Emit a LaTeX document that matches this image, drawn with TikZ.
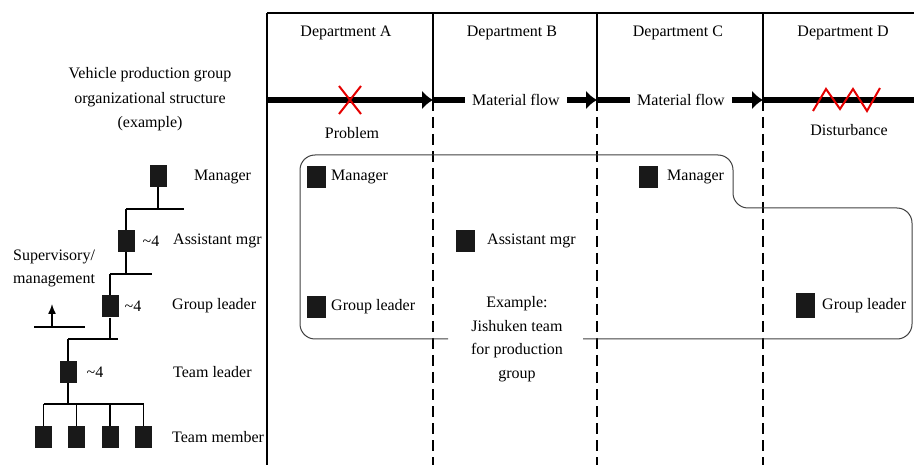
\documentclass[tikz,border=0pt]{standalone}
\usepackage{fontspec}
\setmainfont{Liberation Serif}
\usetikzlibrary{arrows.meta}
\begin{document}
\begin{tikzpicture}[x=1pt,y=-1pt,
  lbl/.style={inner sep=0pt, font=\fontsize{16}{23.5}\selectfont},
  flowtext/.style={lbl, inner xsep=7pt},
  sq/.style={fill=black!90, minimum width=17pt, minimum height=22pt, inner sep=0pt},
  bigsq/.style={sq, minimum width=19pt},
  grid/.style={line width=1.1pt},
  lane/.style={line width=2pt, dash pattern=on 11pt off 6pt},
  flow/.style={line width=6.5pt},
  flowtip/.style={-{Latex[length=11pt,width=19pt]}},
  chart/.style={line width=1.4pt},
  jteam/.style={draw=black!75, line width=1pt, rounded corners=15pt},
  fault/.style={draw=red!90!black, line width=2pt}
]
\useasboundingbox (0,0) rectangle (914,465);

% ---- department table ----
\draw[grid] (267,13) -- (914,13);
\draw[grid] (267,13) -- (267,465);
\foreach \x in {433,597,763}{
  \draw[grid] (\x,13) -- (\x,100);
  \draw[lane] (\x,100) -- (\x,465);
}
\node[lbl] (depA) at (346,33) {Department A};
\node[lbl] (depB) at (512,33) {Department B};
\node[lbl] (depC) at (678,33) {Department C};
\node[lbl] (depD) at (843,33) {Department D};

% ---- material flow ----
\coordinate (f0) at (267,100);
\coordinate (tipB) at (433,100);
\coordinate (tipC) at (597,100);
\coordinate (tipD) at (763,100);
\coordinate (fend) at (914,100);
\node[flowtext] (mfB) at (516,100) {Material flow};
\node[flowtext] (mfC) at (681,100) {Material flow};
\draw[flow,flowtip] (f0) -- (tipB);
\draw[flow] (tipB) -- (mfB.west);
\draw[flow,flowtip] (mfB.east) -- (tipC);
\draw[flow] (tipC) -- (mfC.west);
\draw[flow,flowtip] (mfC.east) -- (tipD);
\draw[flow] (tipD) -- (fend);

% problem and disturbance marks
\draw[fault] (339,86) -- (361,114) (361,86) -- (339,114);
\node[lbl] (prob) at (352,133) {Problem};
\draw[fault] (813,111) -- (826,89) -- (840,109) -- (853,89) -- (867,111) -- (880,88);
\node[lbl] (dist) at (849,130) {Disturbance};

% ---- cross-department Jishuken team ----
\draw[jteam] (583,339) -- (912,339) -- (912,208) -- (733,208) -- (733,155)
  -- (300,155) -- (300,339) -- (448,339);
\node[bigsq] (tmA) at (316.5,177) {};
\node[lbl,anchor=west] (tmAl) at (331,177) {Manager};
\node[bigsq] (tgA) at (316.5,307) {};
\node[lbl,anchor=west] (tgAl) at (331,307) {Group leader};
\node[bigsq] (taB) at (465,241) {};
\node[lbl,anchor=west] (taBl) at (487,241) {Assistant mgr};
\node[bigsq] (tmC) at (648,177) {};
\node[lbl,anchor=west] (tmCl) at (667,177) {Manager};
\node[bigsq, minimum height=25pt] (tgD) at (805.5,306) {};
\node[lbl,anchor=west] (tgDl) at (822,306) {Group leader};
\node[lbl,align=center] (jis) at (517,339) {Example:\\Jishuken team\\for production\\group};

% ---- organizational structure ----
\node[lbl,align=center,font=\fontsize{16}{24.5}\selectfont] (title) at (150,99.5)
  {Vehicle production group\\organizational structure\\(example)};

\node[sq] (m0) at (158,176) {};
\node[lbl,anchor=west] (m0l) at (194,177) {Manager};

\coordinate (b1l) at (126,209); \coordinate (b1r) at (184,209);
\node[sq] (a0) at (126,241) {};
\node[lbl] (a0n) at (151,241) {\textasciitilde 4};
\node[lbl,anchor=west] (a0l) at (173,241) {Assistant mgr};

\coordinate (b2l) at (110,274); \coordinate (b2r) at (152,274);
\node[sq] (g0) at (110,306.5) {};
\node[lbl] (g0n) at (133,306) {\textasciitilde 4};
\node[lbl,anchor=west] (g0l) at (172,306) {Group leader};

\coordinate (b3l) at (68,339); \coordinate (b3r) at (118,339);
\node[sq] (t0) at (68,372) {};
\node[lbl] (t0n) at (95,372) {\textasciitilde 4};
\node[lbl,anchor=west] (t0l) at (173,372) {Team leader};

\coordinate (b4l) at (43.5,404); \coordinate (b4r) at (143.5,404);
\node[sq] (w1) at (43.5,437) {};
\node[sq] (w2) at (76.5,437) {};
\node[sq] (w3) at (110,437) {};
\node[sq] (w4) at (143.5,437) {};
\node[lbl,anchor=west] (wl) at (172,437) {Team member};

\draw[chart] (m0.south) -- (m0.south |- b1l);
\draw[chart] (b1l) -- (b1r);
\draw[chart] (b1l) -- (a0.north);
\draw[chart] (a0.south) -- (a0.south |- b2l);
\draw[chart] (b2l) -- (b2r);
\draw[chart] (b2l) -- (g0.north);
\draw[chart] (g0.south) -- (g0.south |- b3l);
\draw[chart] (b3l) -- (b3r);
\draw[chart] (b3l) -- (t0.north);
\draw[chart] (t0.south) -- (t0.south |- b4l);
\draw[chart] (b4l) -- (b4r);
\foreach \w in {w1,w2,w3,w4}{ \draw[chart] (\w.north |- b4l) -- (\w.north); }

% supervisory / management direction
\node[lbl,anchor=west,align=left] (sup) at (13,268.5) {Supervisory/\\management};
\coordinate (supl) at (34,327); \coordinate (supr) at (85,327);
\coordinate (supb) at (52,327); \coordinate (supt) at (52,304);
\draw[chart] (supl) -- (supr);
\draw[chart,-{Latex[length=10pt,width=8pt]}] (supb) -- (supt);
\end{tikzpicture}
\end{document}
